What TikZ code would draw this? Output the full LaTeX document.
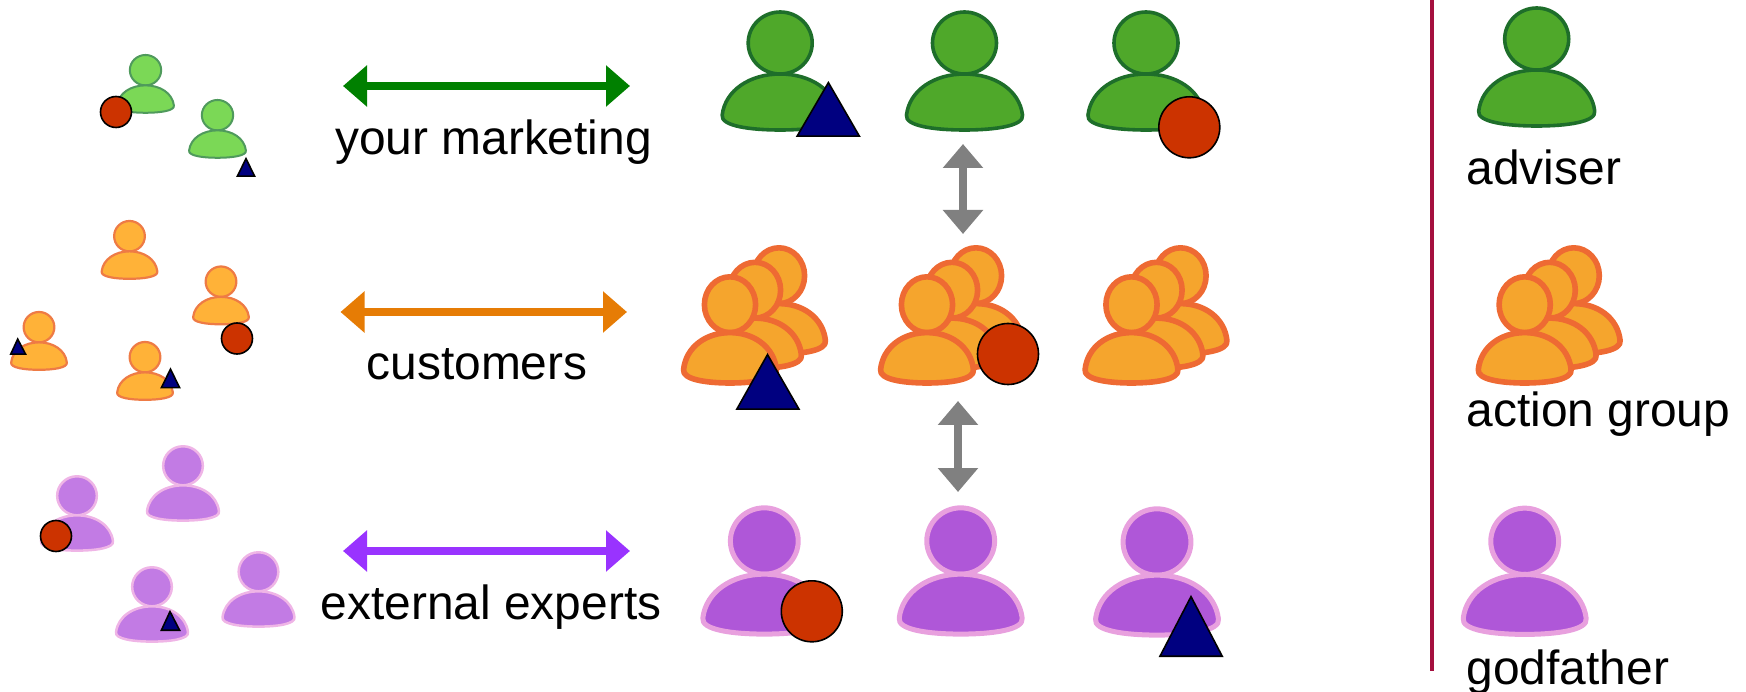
\documentclass[tikz,border=0pt]{standalone}
\usepackage{fontspec}
\setmainfont{Liberation Sans}
\usetikzlibrary{arrows.meta}
\definecolor{bigGreen}{HTML}{4FA82A}
\definecolor{bigGreenLine}{HTML}{1E6E2A}
\definecolor{smGreen}{HTML}{7BD856}
\definecolor{smGreenLine}{HTML}{4F9A5C}
\definecolor{bigOrange}{HTML}{F5A52D}
\definecolor{bigOrangeLine}{HTML}{EE6A33}
\definecolor{smOrange}{HTML}{FFB238}
\definecolor{smOrangeLine}{HTML}{EE7B45}
\definecolor{bigPurple}{HTML}{AF57D8}
\definecolor{bigPurpleLine}{HTML}{E8A0DE}
\definecolor{smPurple}{HTML}{C27BE4}
\definecolor{smPurpleLine}{HTML}{EFB5E6}
\definecolor{redMark}{HTML}{CC3300}
\definecolor{blueMark}{HTML}{000080}
\definecolor{arrowGreen}{HTML}{008000}
\definecolor{arrowOrange}{HTML}{E67C05}
\definecolor{arrowPurple}{HTML}{9933FF}
\definecolor{ruleRed}{HTML}{A50F3E}
\definecolor{arrowGrey}{HTML}{808080}
\tikzset{
  advBig/.style={fill=bigGreen,draw=bigGreenLine,line width=3.6pt,line join=round},
  advSmall/.style={fill=smGreen,draw=smGreenLine,line width=2pt,line join=round},
  grpBig/.style={fill=bigOrange,draw=bigOrangeLine,line width=5.6pt,line join=round},
  grpSmall/.style={fill=smOrange,draw=smOrangeLine,line width=2.2pt,line join=round},
  godBig/.style={fill=bigPurple,draw=bigPurpleLine,line width=5pt,line join=round},
  godSmall/.style={fill=smPurple,draw=smPurpleLine,line width=2.5pt,line join=round},
  dbl/.style={line width=8pt,{Triangle[length=24pt,width=40pt]}-{Triangle[length=24pt,width=40pt]}},
  vdbl/.style={line width=8pt,arrowGrey,{Triangle[length=24pt,width=39pt]}-{Triangle[length=24pt,width=39pt]}},
  redDot/.style={circle,draw=black,fill=redMark,line width=1.6pt,inner sep=0pt},
  bluePoly/.style={fill=blueMark,draw=black,line width=1.6pt,line join=miter},
  lab/.style={font=\fontsize{47.9pt}{50pt}\selectfont,inner sep=0pt,text=black},
}
% #1 x of centre, #2 top, #3 xscale, #4 yscale, #5 style
\newcommand{\onePerson}[5]{%
  \begin{scope}[shift={(#1,#2)},xscale=#3,yscale=#4]
    \path[#5] (0,33) ellipse [x radius=32,y radius=31];
    \path[#5] (-58,105) .. controls (-55,80) and (-30,64) .. (0,64)
      .. controls (30,64) and (55,80) .. (58,105)
      .. controls (60,116) and (30,120) .. (0,120)
      .. controls (-30,120) and (-60,116) .. (-58,105) -- cycle;
  \end{scope}}
\newcommand{\groupPerson}[2]{%
  \onePerson{#1+49}{#2-29}{0.8}{0.9}{grpBig}
  \onePerson{#1+25}{#2-14.5}{0.8}{0.9}{grpBig}
  \onePerson{#1}{#2}{0.8}{0.9}{grpBig}}
% apex x, apex y, left x, right x, base y (outer extents)
\newcommand{\markTri}[5]{\draw[bluePoly] (#1,#2+1.6) -- (#4-1.4,#5-0.8) -- (#3+1.4,#5-0.8) -- cycle;}
\begin{document}
\begin{tikzpicture}[x=1pt,y=-1pt]
\useasboundingbox (0,0) rectangle (1746,692);
% left: small people
\onePerson{145.5}{54}{0.49}{0.49}{advSmall}
\node[redDot,minimum size=31pt] (r1) at (116,112) {};
\onePerson{217.5}{99}{0.49}{0.49}{advSmall}
\markTri{246}{157}{236}{256}{177}
\onePerson{129.5}{220}{0.48}{0.49}{grpSmall}
\onePerson{221}{265.5}{0.48}{0.49}{grpSmall}
\node[redDot,minimum size=31pt] (r2) at (237,338.5) {};
\onePerson{39}{311}{0.48}{0.49}{grpSmall}
\markTri{17.7}{337.5}{9.3}{27}{355}
\onePerson{145}{341}{0.48}{0.49}{grpSmall}
\markTri{170.5}{367.5}{160}{181}{388.5}
\onePerson{183}{445}{0.62}{0.63}{godSmall}
\onePerson{77}{475}{0.62}{0.63}{godSmall}
\node[redDot,minimum size=31pt] (r3) at (56,536) {};
\onePerson{152}{566}{0.62}{0.63}{godSmall}
\markTri{170}{610}{160}{181}{631}
\onePerson{258.5}{551}{0.62}{0.63}{godSmall}
% horizontal arrows
\coordinate (ga) at (343,86);  \coordinate (gb) at (630,86);
\coordinate (oa) at (340.5,312); \coordinate (ob) at (627,312);
\coordinate (pa) at (343,551); \coordinate (pb) at (630,551);
\draw[dbl,arrowGreen] (ga) -- (gb);
\draw[dbl,arrowOrange] (oa) -- (ob);
\draw[dbl,arrowPurple] (pa) -- (pb);
\node[lab,anchor=base] (t1) at (493.5,155) {your marketing};
\node[lab,anchor=base] (t2) at (477,380) {customers};
\node[lab,anchor=base] (t3) at (491,619.5) {external experts};
% centre: adviser row
\onePerson{780.2}{10}{1}{1}{advBig}
\markTri{828.4}{81}{795.7}{860.8}{137}
\onePerson{964.5}{10}{1}{1}{advBig}
\onePerson{1146}{10}{1}{1}{advBig}
\node[redDot,minimum size=61pt] (r4) at (1189.3,127.3) {};
% centre: group row
\groupPerson{730}{275}
\markTri{767.5}{353}{735.4}{800.4}{410}
\groupPerson{927}{275}
\node[redDot,minimum size=61pt] (r5) at (1008,354) {};
\groupPerson{1131.5}{275}
% centre: godfather row
\onePerson{764.3}{505.7}{1.06}{1.07}{godBig}
\node[redDot,minimum size=61pt] (r6) at (811.8,611.3) {};
\onePerson{960.7}{505.7}{1.06}{1.07}{godBig}
\onePerson{1157}{506.7}{1.06}{1.07}{godBig}
\markTri{1191}{595}{1158.6}{1223.6}{657}
% vertical arrows
\coordinate (v1a) at (963,144); \coordinate (v1b) at (963,234);
\coordinate (v2a) at (958,401); \coordinate (v2b) at (958,492);
\draw[vdbl] (v1a) -- (v1b);
\draw[vdbl] (v2a) -- (v2b);
% divider
\coordinate (ra) at (1431.7,0); \coordinate (rb) at (1431.7,671);
\draw[ruleRed,line width=4pt] (ra) -- (rb);
% legend
\onePerson{1536.7}{6}{1}{1}{advBig}
\node[lab,anchor=base west] (l1) at (1466.5,185) {adviser};
\groupPerson{1524.7}{275}
\node[lab,anchor=base west] (l2) at (1466.5,426.5) {action group};
\onePerson{1524.7}{506}{1.06}{1.07}{godBig}
\node[lab,anchor=base west] (l3) at (1466.5,684.5) {godfather};
\end{tikzpicture}
\end{document}
